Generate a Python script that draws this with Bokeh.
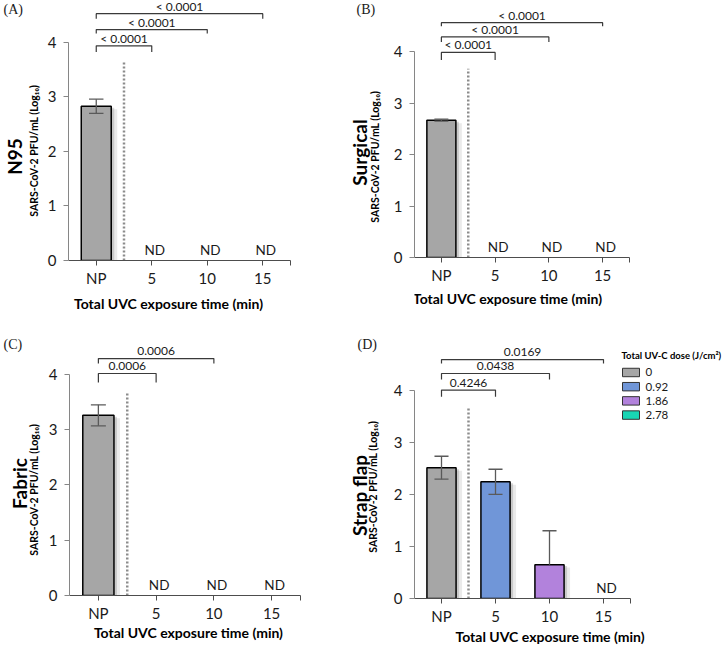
import math
from bokeh.plotting import figure
from bokeh.models import FixedTicker, Range1d
from bokeh.layouts import row, column
from bokeh.embed import file_html
from bokeh.resources import INLINE
from bokeh.core.properties import value

# ---------------- data ----------------
categories = ["NP", "5", "10", "15"]
dose_labels = ["0", "0.92", "1.86", "2.78"]
dose_colors = ["#a6a6a6", "#7096d8", "#b282dc", "#18d6b4"]

n95_mean = [2.83, None, None, None]
n95_err_lo = [0.13, None, None, None]
n95_err_hi = [0.13, None, None, None]
n95_p = ["< 0.0001", "< 0.0001", "< 0.0001"]

surgical_mean = [2.67, None, None, None]
surgical_err_lo = [0.02, None, None, None]
surgical_err_hi = [0.02, None, None, None]
surgical_p = ["< 0.0001", "< 0.0001", "< 0.0001"]

fabric_mean = [3.26, None, None, None]
fabric_err_lo = [0.19, None, None, None]
fabric_err_hi = [0.19, None, None, None]
fabric_p = ["0.0006", "0.0006"]

strap_mean = [2.51, 2.24, 0.65, None]
strap_err_lo = [0.22, 0.24, 0.0, None]
strap_err_hi = [0.22, 0.24, 0.65, None]
strap_p = ["0.4246", "0.0438", "0.0169"]

x_title = "Total UVC exposure time (min)"
y_title = "SARS-CoV-2  PFU/mL (Log\u2081\u2080)"
legend_title = "Total UV-C dose (J/cm\u00b2)"

FONT = "Lato"


def strip(w, h):
    s = figure(width=w, height=h, x_range=Range1d(0, w), y_range=Range1d(0, h),
               output_backend="svg", toolbar_location=None, title=None,
               x_axis_location=None, y_axis_location=None, min_border=0)
    s.outline_line_color = None
    s.background_fill_color = "white"
    s.border_fill_color = "white"
    s.xgrid.visible = False
    s.ygrid.visible = False
    return s


def make_panel(letter, material, mean, elo, ehi, pvals, colored, L):
    fw, fh, ws = L["fw"], L["fh"], L["ws"]
    axl, axr, y0, y4 = L["axl"], L["axr"], L["y0"], L["y4"]
    hb = y0 + 27
    mw = fw - ws
    sx = (axr - axl) / 4.0
    sy = (y0 - y4) / 4.0
    frame_r = fw if L.get("extend") else axr
    x_end = (frame_r - axl) / sx
    y_end = y0 / sy

    def X(px):
        return (px - axl) / sx

    def Y(py):
        return (y0 - py) / sy

    p = figure(width=mw, height=hb, x_range=Range1d(0, x_end), y_range=Range1d(0, y_end),
               output_backend="svg", toolbar_location=None, title=None,
               min_border_left=int(axl - ws), min_border_right=int(fw - frame_r),
               min_border_top=0, min_border_bottom=int(hb - y0))
    p.outline_line_color = None
    p.xgrid.visible = False
    p.ygrid.visible = False
    p.background_fill_color = "white"
    p.border_fill_color = "white"

    # axes
    p.xaxis.ticker = FixedTicker(ticks=[i + 0.5 for i in range(4)] + [4.0])
    ov = {i + 0.5: c for i, c in enumerate(categories)}
    ov[4.0] = ""
    p.xaxis.major_label_overrides = ov
    p.xaxis.bounds = (0, 4)
    p.xaxis.axis_line_color = "#4d4d4d"
    p.xaxis.major_tick_line_color = "#4d4d4d"
    p.xaxis.major_tick_out = 5
    p.xaxis.major_tick_in = 0
    p.xaxis.minor_tick_line_color = None
    p.xaxis.major_label_standoff = 3
    p.xaxis.major_label_text_font = FONT
    p.xaxis.major_label_text_font_size = "15px"
    p.xaxis.major_label_text_color = "#1a1a1a"

    p.yaxis.ticker = FixedTicker(ticks=[0, 1, 2, 3, 4])
    p.yaxis.bounds = (0, 4)
    p.yaxis.axis_line_color = "#868686"
    p.yaxis.major_tick_line_color = "#868686"
    p.yaxis.major_tick_out = 5
    p.yaxis.major_tick_in = 0
    p.yaxis.minor_tick_line_color = None
    p.yaxis.major_label_standoff = 7
    p.yaxis.major_label_text_font = FONT
    p.yaxis.major_label_text_font_size = "15px"
    p.yaxis.major_label_text_color = "#1a1a1a"

    # bars
    bx, bt, bc = [], [], []
    ndx = []
    for i, v in enumerate(mean):
        if v is None:
            ndx.append(i + 0.5)
        else:
            bx.append(i + 0.5)
            bt.append(v)
            bc.append(dose_colors[i] if colored else dose_colors[0])
    w = 0.54
    p.vbar(x=[x + 6.0 / sx for x in bx], top=[t - 3.0 / sy for t in bt], width=w,
           fill_color="#8c8c8c", fill_alpha=0.18, line_color=None)
    p.vbar(x=[x + 3.0 / sx for x in bx], top=[t - 1.5 / sy for t in bt], width=w,
           fill_color="#7f7f7f", fill_alpha=0.3, line_color=None)
    p.vbar(x=bx, top=bt, width=w, fill_color=bc, line_color="black", line_width=1.5)

    # error bars
    cap = 0.13
    ex, elo_v, ehi_v, mv = [], [], [], []
    for i, v in enumerate(mean):
        if v is None:
            continue
        ex.append(i + 0.5)
        mv.append(v)
        elo_v.append(v - elo[i])
        ehi_v.append(v + ehi[i])
    p.segment(x0=ex, y0=elo_v, x1=ex, y1=ehi_v, line_color="#5a5a5a", line_width=1.3)
    p.segment(x0=[x - cap for x in ex], y0=ehi_v, x1=[x + cap for x in ex], y1=ehi_v,
              line_color="#5a5a5a", line_width=1.3)
    lx = [x for x, lo, v in zip(ex, elo_v, mv) if lo < v]
    ly = [lo for lo, v in zip(elo_v, mv) if lo < v]
    p.segment(x0=[x - cap for x in lx], y0=ly, x1=[x + cap for x in lx], y1=ly,
              line_color="#5a5a5a", line_width=1.3)

    # ND labels
    p.text(x=[x + 3.0 / sx for x in ndx], y=[Y(y0 - 11)] * len(ndx), text=["ND"] * len(ndx),
           text_font=value(FONT), text_font_size="13.5px", text_color="#1a1a1a",
           text_align="center", text_baseline="middle")

    # dotted separator
    p.segment(x0=[1.0], y0=[0], x1=[1.0], y1=[3.67], line_color="#8c8c8c",
              line_width=2.5, line_dash="2 2")

    # significance brackets
    xs, ys, tx, ty = [], [], [], []
    for k, (h, e) in enumerate(zip(L["bh"], L["be"])):
        xt = k + 1.5
        xs.append([0.5, 0.5, xt, xt])
        ys.append([Y(e), Y(h), Y(h), Y(e)])
        tx.append((0.5 + xt) / 2)
        ty.append(Y(h - 7.5))
    p.multi_line(xs=xs, ys=ys, line_color="#3a3a3a", line_width=1.2)
    p.text(x=tx, y=ty, text=pvals, text_font=value(FONT), text_font_size="12px",
           text_color="#1a1a1a", text_align="center", text_baseline="middle")

    # legend (manual)
    if L.get("legend"):
        lg = L["legend"]
        rows_y = [Y(lg["y0"] + i * lg["dy"]) for i in range(len(dose_labels))]
        p.rect(x=[X(lg["x"] + 8.5)] * len(dose_labels), y=rows_y, width=17 / sx,
               height=8.5 / sy, fill_color=dose_colors, line_color="#333333", line_width=1)
        p.text(x=[X(lg["x"] + 23)] * len(dose_labels), y=rows_y, text=dose_labels,
               text_font=value(FONT), text_font_size="11.5px", text_color="#1a1a1a",
               text_align="left", text_baseline="middle")
        p.text(x=[X(lg["x"] - 1)], y=[Y(lg["ty"])], text=[legend_title], text_font=value(FONT),
               text_font_style="bold", text_font_size="9.5px",
               text_align="left", text_baseline="middle", text_color="black")

    # left strip: panel letter + rotated titles
    ls = strip(ws, fh)
    ls.text(x=[L["lx"]], y=[fh - L["ly"]], text=[letter], text_font=value("Liberation Serif"),
            text_font_size="14px", text_align="left", text_baseline="middle",
            text_color="#1a1a1a")
    ls.text(x=[L["mx"]], y=[fh - L["my"]], text=[material], text_font=value(FONT),
            text_font_style="bold", text_font_size="19px", angle=math.pi / 2,
            text_align="center", text_baseline="middle", text_color="black")
    ls.text(x=[L["sx"]], y=[fh - L["sy"]], text=[y_title], text_font=value(FONT),
            text_font_style="bold", text_font_size="10.5px", angle=math.pi / 2,
            text_align="center", text_baseline="middle", text_color="black")

    # bottom strip: x-axis title
    bh_ = fh - hb
    bs = strip(mw, bh_)
    bs.text(x=[L["xtx"] - ws], y=[bh_ - (L["xty"] - hb)], text=[x_title], text_font=value(FONT),
            text_font_style="bold", text_font_size="14px", text_align="center",
            text_baseline="middle", text_color="black")

    return row(ls, column(p, bs, spacing=0), spacing=0)


LA = dict(fw=345, fh=330, ws=42, axl=68, axr=290, y0=262, y4=42.3,
          bh=[45.7, 29.3, 13.3], be=[52, 33.3, 18.3],
          lx=3, ly=9, mx=14, my=156, sx=33, sy=149, xtx=178.5, xty=302.7)
LB = dict(fw=378, fh=330, ws=38, axl=69, axr=284, y0=259, y4=51.7,
          bh=[52.3, 36.7, 22.3], be=[60, 41.7, 26],
          lx=11, ly=9, mx=14, my=152, sx=29, sy=155, xtx=185, xty=298.3)
LC = dict(fw=345, fh=315, ws=42, axl=69, axr=300, y0=267, y4=44.3,
          bh=[43.3, 28.3], be=[52.3, 33.3],
          lx=3, ly=14, mx=19, my=153, sx=33, sy=158, xtx=198, xty=302)
LD = dict(fw=378, fh=315, ws=36, axl=69, axr=285, y0=270, y4=60, extend=True,
          bh=[60, 43.3, 29.3], be=[66.7, 49.3, 33.3],
          lx=12, ly=14, mx=14, my=165, sx=27, sy=155, xtx=186, xty=306,
          legend=dict(x=277, y0=42.3, dy=14.3, ty=25))

pa = make_panel("(A)", "N95", n95_mean, n95_err_lo, n95_err_hi, n95_p, False, LA)
pb = make_panel("(B)", "Surgical", surgical_mean, surgical_err_lo, surgical_err_hi, surgical_p, False, LB)
pc = make_panel("(C)", "Fabric", fabric_mean, fabric_err_lo, fabric_err_hi, fabric_p, False, LC)
pd = make_panel("(D)", "Strap flap", strap_mean, strap_err_lo, strap_err_hi, strap_p, True, LD)

layout = column(row(pa, pb, spacing=0), row(pc, pd, spacing=0), spacing=0)
open("out.html", "w").write(file_html(layout, INLINE))
